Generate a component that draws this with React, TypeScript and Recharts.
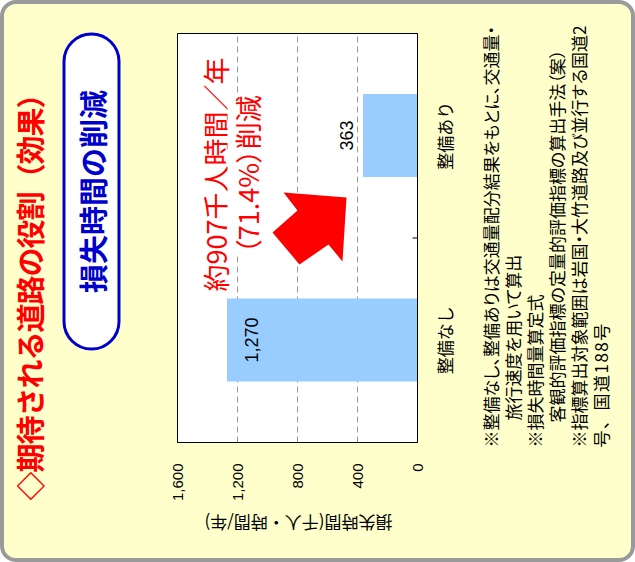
import React from 'react';
import { BarChart, Bar, XAxis, YAxis, CartesianGrid, LabelList, ReferenceArea } from 'recharts';

const categories = ['整備なし', '整備あり'];
const lossTime = [1270, 363];
const yTicks = [0, 400, 800, 1200, 1600];

const data = categories.map((name, i) => ({ name, value: lossTime[i] }));

const JP = '"Noto Sans CJK JP", "Noto Sans", sans-serif';
const NUM = '"Liberation Sans", Arial, sans-serif';

const fmt = (v: number) => Number(v).toLocaleString('en-US');

function CategoryTick(props: any) {
  const { x, y, payload, index } = props;
  const half = payload?.offset;
  return (
    <g>
      <text x={x} y={y + 34} textAnchor="middle" fontFamily={JP} fontSize={17} fill="#000">
        {payload.value}
      </text>
      {index === 0 && half ? (
        <line x1={x + half} x2={x + half} y1={y} y2={y - 5} stroke="#000" />
      ) : null}
    </g>
  );
}

function ValueLabel(props: any) {
  const { x, y, width, height, value } = props;
  const inside = height > 60;
  return (
    <text
      x={x + width / 2}
      y={inside ? y + 31 : y - 10}
      textAnchor="middle"
      fontFamily={NUM}
      fontSize={18}
      fill="#000"
    >
      {fmt(value)}
    </text>
  );
}

export default function App() {
  return (
    <div style={{ position: 'absolute', left: 0, top: 0, width: 635, height: 562, overflow: 'hidden', fontFamily: JP }}>
      <div
        style={{
          position: 'absolute',
          inset: 0,
          background: '#ffffcc',
          border: '4px solid #9a9a9a',
          borderRadius: 16,
          boxSizing: 'border-box',
        }}
      />
      {/* the slide is turned a quarter turn anticlockwise */}
      <div style={{ position: 'absolute', left: 36.5, top: -36.5, width: 562, height: 635, transform: 'rotate(-90deg)' }}>
        <div
          style={{
            position: 'absolute',
            left: 62,
            top: 12,
            fontSize: 29,
            letterSpacing: -1,
            fontWeight: 700,
            color: '#ff0000',
            whiteSpace: 'nowrap',
            lineHeight: '32px',
          }}
        >
          ◇期待される道路の役割（効果）
        </div>
        <div
          style={{
            position: 'absolute',
            left: 212,
            top: 62,
            width: 318,
            height: 58,
            border: '3px solid #0000cc',
            borderRadius: 29,
            background: '#fff',
            boxSizing: 'border-box',
            display: 'flex',
            alignItems: 'center',
            justifyContent: 'center',
            color: '#0000cc',
            fontSize: 29,
            fontWeight: 700,
          }}
        >
          損失時間の削減
        </div>

        <div style={{ position: 'absolute', left: 0, top: 0 }}>
          <BarChart width={562} height={480} data={data} margin={{ top: 177, right: 33, left: 60, bottom: 23 }}>
            <CartesianGrid vertical={false} stroke="#999" strokeDasharray="6 4" fill="#fff" />
            <XAxis
              dataKey="name"
              height={40}
              axisLine={{ stroke: '#000' }}
              tickLine={false}
              tickSize={0}
              tickMargin={0}
              interval={0}
              tick={<CategoryTick />}
            />
            <YAxis
              domain={[0, 1600]}
              ticks={yTicks}
              width={60}
              axisLine={{ stroke: '#000' }}
              tickLine={false}
              tickSize={0}
              tickMargin={21}
              tick={{ fontSize: 15, fill: '#000', fontFamily: NUM }}
              tickFormatter={fmt}
            />
            <ReferenceArea y1={0} y2={1600} fill="none" fillOpacity={0} stroke="#000" strokeWidth={1} />
            <Bar dataKey="value" fill="#99ccff" barSize={83} isAnimationActive={false}>
              <LabelList dataKey="value" content={ValueLabel} />
            </Bar>
          </BarChart>
        </div>

        <div
          style={{
            position: 'absolute',
            left: 238,
            top: 199,
            width: 300,
            textAlign: 'center',
            color: '#ff0000',
            fontSize: 27,
            lineHeight: '32px',
            whiteSpace: 'nowrap',
          }}
        >
          <span style={{ background: '#fff' }}>約907千人時間／年</span>
          <br />
          <span style={{ background: '#fff', fontFeatureSettings: '"palt"' }}>（71.4%）削減</span>
        </div>

        <svg style={{ position: 'absolute', left: 0, top: 0 }} width={562} height={635}>
          <polygon
            points="370,283 365,346 301,342 318,328 298,299 330,272 352,297"
            fill="#ff0000"
          />
        </svg>

        <div
          style={{
            position: 'absolute',
            left: -80,
            top: 286,
            width: 240,
            height: 24,
            lineHeight: '24px',
            textAlign: 'center',
            transform: 'rotate(-90deg)',
            fontSize: 17,
            whiteSpace: 'nowrap',
            color: '#000',
          }}
        >
          損失時間(千人・時間/年)
        </div>

        <div
          style={{
            position: 'absolute',
            left: 115,
            top: 479,
            fontSize: 17,
            lineHeight: '22px',
            whiteSpace: 'nowrap',
            color: '#000',
            fontFeatureSettings: '"palt"',
          }}
        >
          <div>※整備なし、整備ありは交通量配分結果をもとに、交通量・</div>
          <div style={{ paddingLeft: 27 }}>旅行速度を用いて算出</div>
          <div>※損失時間量算定式</div>
          <div style={{ paddingLeft: 25 }}>客観的評価指標の定量的評価指標の算出手法（案）</div>
          <div>※指標算出対象範囲は岩国・大竹道路及び並行する国道2</div>
          <div style={{ fontFeatureSettings: 'normal', letterSpacing: 1.5 }}>号、国道188号</div>
        </div>
      </div>
    </div>
  );
}
